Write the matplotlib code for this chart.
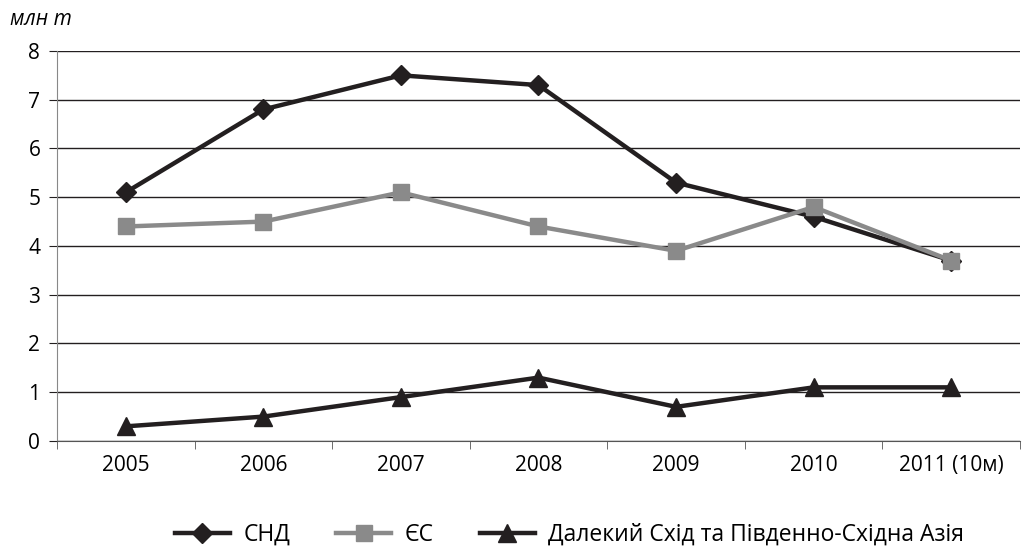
import numpy as np
import matplotlib.pyplot as plt

plt.rcParams['font.family'] = ['Open Sans', 'DejaVu Sans']

years = ['2005', '2006', '2007', '2008', '2009', '2010', '2011 (10м)']
snd = [5.1, 6.8, 7.5, 7.3, 5.3, 4.6, 3.7]
es = [4.4, 4.5, 5.1, 4.4, 3.9, 4.8, 3.7]
asia = [0.3, 0.5, 0.9, 1.3, 0.7, 1.1, 1.1]

fig = plt.figure(figsize=(10.3, 5.54), dpi=100)
ax = fig.add_axes([0.0553, 0.204, 0.935, 0.704])

x = np.arange(len(years))
ax.plot(x, snd, color='#231f20', lw=3.2, marker='D', ms=10, label='СНД', zorder=3)
ax.plot(x, es, color='#8a8a8a', lw=3.2, marker='s', ms=11, label='ЄС', zorder=4)
ax.plot(x, asia, color='#231f20', lw=3.2, marker='^', ms=13, label='Далекий Схід та Південно-Східна Азія', zorder=3)

ax.set_xlim(-0.5, len(years) - 0.5)
ax.set_ylim(0, 8)
ax.set_yticks(range(0, 9))
ax.set_xticks(x)
ax.set_xticklabels(years)
ax.set_xticks(np.arange(-0.5, len(years)), minor=True)
ax.tick_params(axis='x', which='major', length=0, pad=10, labelsize=15)
ax.tick_params(axis='x', which='minor', length=6, color='#555555')
ax.tick_params(axis='y', length=6, labelsize=15, color='#231f20', pad=6)
ax.grid(axis='y', color='#231f20', lw=1)
ax.set_axisbelow(True)
for s in ['top', 'right']:
    ax.spines[s].set_visible(False)
ax.spines['left'].set_color('#888888')
ax.spines['bottom'].set_color('#555555')

fig.text(0.01, 0.965, 'млн т', fontsize=15, style='italic', va='center')

fig.legend(loc='center', bbox_to_anchor=(0.553, 0.035), ncol=3, frameon=False,
           fontsize=16.5, handlelength=2.4, handletextpad=0.6, columnspacing=2.0,
           borderpad=0.1)

fig.savefig('out.png', dpi=100)
